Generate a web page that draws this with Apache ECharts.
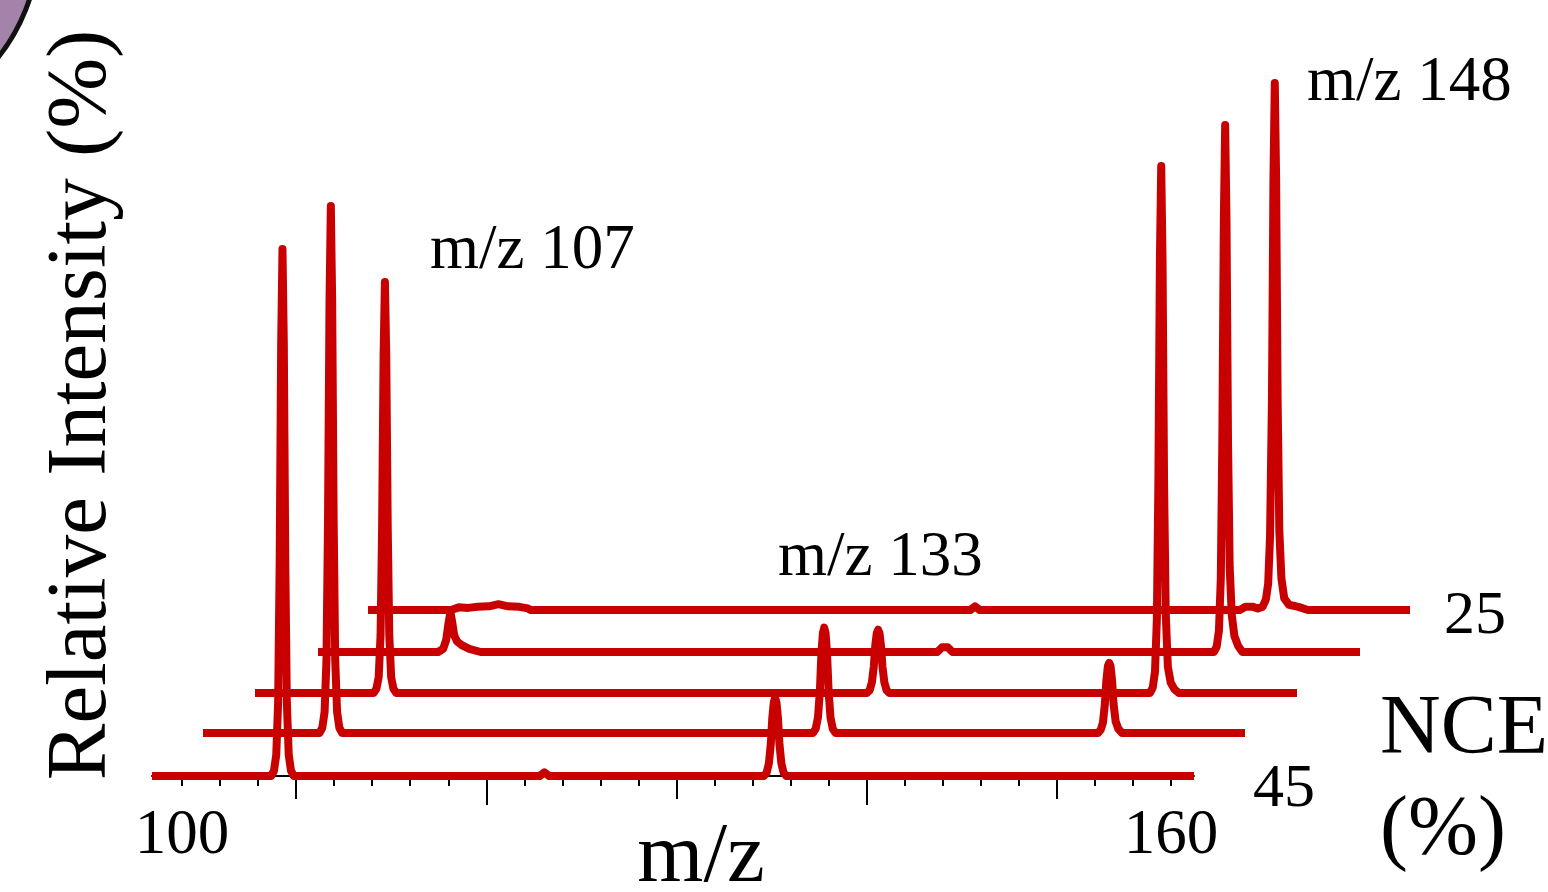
<!DOCTYPE html>
<html><head><meta charset="utf-8">
<script src="https://cdn.jsdelivr.net/npm/echarts@6/dist/echarts.min.js"></script>
<style>html,body{margin:0;padding:0;background:#fff;}#c{width:1548px;height:892px;}</style>
</head><body><div id="c"></div>
<script>
// ---------- data ----------
const nceLevels = ['45', '40', '35', '30', '25'];
const mzRange = [100.1, 155.2];

const nce45 = [
  [100.1,0],[106.4,0],[106.55,1],[106.67,4],[106.77,14],[106.85,40],[106.93,82],[107,100],[107.07,82],[107.15,40],[107.23,14],[107.33,4],[107.45,1],[107.6,0],
  [120.6,0],[120.85,0.7],[121.1,0],
  [132.45,0],[132.6,0.6],[132.72,2.4],[132.82,6],[132.9,11],[132.98,14],[133.05,14.8],[133.12,14],[133.2,11],[133.28,6],[133.38,2.4],[133.5,0.6],[133.65,0],
  [155.2,0]
];
const nce40 = [
  [100.1,0],[106.26,0],[106.41,1],[106.53,4],[106.63,14],[106.71,40],[106.79,82],[106.86,100],[106.93,82],[107.01,40],[107.09,14],[107.19,4],[107.31,1],[107.46,0],
  [132.35,0],[132.5,0.8],[132.62,3],[132.72,8],[132.8,15],[132.88,19],[132.95,20],[133.02,19],[133.1,15],[133.18,8],[133.28,3],[133.4,0.8],[133.55,0],
  [147.42,0],[147.57,0.6],[147.69,2],[147.79,5.5],[147.87,10],[147.95,12.7],[148.02,13.3],[148.09,12.7],[148.17,10],[148.25,5.5],[148.36,2.2],[148.5,0.8],[148.7,0],
  [155.2,0]
];
const nce35 = [
  [100.1,0],[106.37,0],[106.52,0.8],[106.64,3],[106.74,11],[106.82,31],[106.9,64],[106.97,78],[107.04,64],[107.12,31],[107.2,11],[107.3,3],[107.42,0.8],[107.57,0],
  [132.45,0],[132.6,0.5],[132.72,2],[132.82,5],[132.9,9],[132.98,11.4],[133.05,12],[133.12,11.4],[133.2,9],[133.28,5],[133.38,2],[133.5,0.5],[133.65,0],
  [147.42,0],[147.57,1],[147.69,4],[147.79,14],[147.87,40],[147.95,82],[148.02,100],[148.09,82],[148.17,40],[148.26,15],[148.37,5],[148.52,2],[148.72,0.7],[148.95,0],
  [155.2,0]
];
const nce30 = [
  [100.1,0],[106.45,0],[106.72,0.6],[106.88,2.3],[106.99,5.2],[107.1,7.6],[107.2,5.6],[107.3,3.2],[107.45,2],[107.7,1.3],[108.1,0.6],[108.7,0],
  [132.85,0],[133.1,0.9],[133.4,0.9],[133.65,0],
  [147.47,0],[147.62,1],[147.74,4],[147.84,14],[147.92,40],[148.0,82],[148.07,100],[148.14,82],[148.22,40],[148.31,16],[148.42,7],[148.56,3],[148.75,1.2],[148.98,0],
  [155.2,0]
];
const nce25 = [
  [100.1,0],[104.5,0],[104.9,0.5],[105.4,0.4],[105.9,0.6],[106.5,0.7],[107.0,1.1],[107.5,0.7],[108.1,0.6],[108.55,0.3],[108.7,0],
  [131.95,0],[132.2,0.7],[132.45,0],
  [146.2,0],[146.5,0.6],[146.9,0.6],[147.15,0.3],[147.4,0.6],[147.58,2],[147.7,5],[147.8,14],[147.9,40],[147.98,82],[148.05,100],[148.12,82],[148.2,40],[148.29,15],[148.4,6],[148.55,2.2],[148.8,1],[149.3,0.6],[149.8,0],
  [155.2,0]
];
const traces = [nce45, nce40, nce35, nce30, nce25];

const tickLabels = ['100','','','','','','','','','','','','','','','','','','','','','','','','','','160'];
const mediumTicks = [3, 13, 23];
const longTicks = [8, 18];
const peakLabels = ['m/z 107', 'm/z 133', 'm/z 148'];
const axisTitleX = 'm/z';
const axisTitleY = 'Relative Intensity (%)';
const depthTitle = ['NCE', '(%)'];

// ---------- layout ----------
const FONT = '"Liberation Serif", "Times New Roman", serif';
const RED = '#c90000';
const fullH = 527, plotW = 1042;
const traceLayout = [
  {left: 152, base: 776},
  {left: 203, base: 733},
  {left: 255, base: 693},
  {left: 318, base: 652},
  {left: 368, base: 610}
];
const endLabelLayout = {
  '45': {distance: 59, offset: [0, 14]},
  '25': {distance: 34, offset: [0, 7]}
};

const grids = traceLayout.map(t => ({left: t.left, top: t.base - fullH, width: plotW, height: fullH, outerBoundsMode: 'none', containLabel: false}));
grids.push({left: 182, top: traceLayout[0].base - fullH, width: 989, height: fullH, outerBoundsMode: 'none', containLabel: false});
const tickGrid = grids.length - 1;

const xAxes = traceLayout.map((t, i) => ({
  gridIndex: i, type: 'value', min: mzRange[0], max: mzRange[1],
  show: i === 0, position: 'bottom', offset: 7,
  axisLine: {show: i === 0, lineStyle: {color: '#000', width: 2}},
  axisTick: {show: false}, axisLabel: {show: false}, splitLine: {show: false}
}));
function tickAxis(len, filter, withLabels) {
  return {
    gridIndex: tickGrid, type: 'category', data: tickLabels, boundaryGap: false,
    position: 'bottom', offset: 7,
    axisLine: {show: false},
    axisTick: {show: true, length: len, interval: filter, lineStyle: {color: '#000', width: 2}},
    axisLabel: {show: withLabels, interval: 0, margin: 22, color: '#000', fontFamily: FONT, fontSize: 63},
    splitLine: {show: false}
  };
}
xAxes.push(tickAxis(10, 0, true));
xAxes.push(tickAxis(16, (idx) => mediumTicks.includes(idx), false));
xAxes.push(tickAxis(22, (idx) => longTicks.includes(idx), false));

const yAxes = grids.map((g, i) => ({gridIndex: i, type: 'value', min: 0, max: 100, show: false, splitLine: {show: false}}));

const series = traces.map((d, i) => {
  const name = nceLevels[i];
  const el = endLabelLayout[name];
  return {
    name, type: 'line', xAxisIndex: i, yAxisIndex: i, data: d,
    symbol: 'none', showSymbol: false, clip: false, silent: true,
    lineStyle: {color: RED, width: 8, cap: 'butt', join: 'round'},
    endLabel: el ? {show: true, formatter: name, color: '#000', fontFamily: FONT, fontSize: 62,
                    distance: el.distance, offset: el.offset} : {show: false}
  };
});

const peakLabelPos = [[430, 251], [778, 558], [1307, 83]];
const graphics = [
  {type: 'circle', shape: {cx: -150, cy: -60, r: 189}, style: {fill: '#a383aa', stroke: '#111', lineWidth: 5}, z: 1},
  {type: 'text', x: 83, y: 405, rotation: Math.PI / 2,
   style: {text: axisTitleY, font: '85px ' + FONT, fill: '#000', align: 'center', verticalAlign: 'middle'}},
  {type: 'text', x: 701, y: 859,
   style: {text: axisTitleX, font: '85px ' + FONT, fill: '#000', align: 'center', verticalAlign: 'middle'}},
  {type: 'text', x: 1380, y: 731,
   style: {text: depthTitle[0], font: '84px ' + FONT, fill: '#000', align: 'left', verticalAlign: 'middle'}},
  {type: 'text', x: 1380, y: 832,
   style: {text: depthTitle[1], font: '84px ' + FONT, fill: '#000', align: 'left', verticalAlign: 'middle'}}
].concat(peakLabels.map((t, i) => ({
  type: 'text', x: peakLabelPos[i][0], y: peakLabelPos[i][1],
  style: {text: t, font: '63px ' + FONT, fill: '#000', align: 'left', verticalAlign: 'middle'}
})));

const chart = echarts.init(document.getElementById('c'), null, {renderer: 'canvas'});
chart.setOption({
  animation: false,
  backgroundColor: '#fff',
  grid: grids, xAxis: xAxes, yAxis: yAxes, series,
  graphic: graphics
});
</script></body></html>
